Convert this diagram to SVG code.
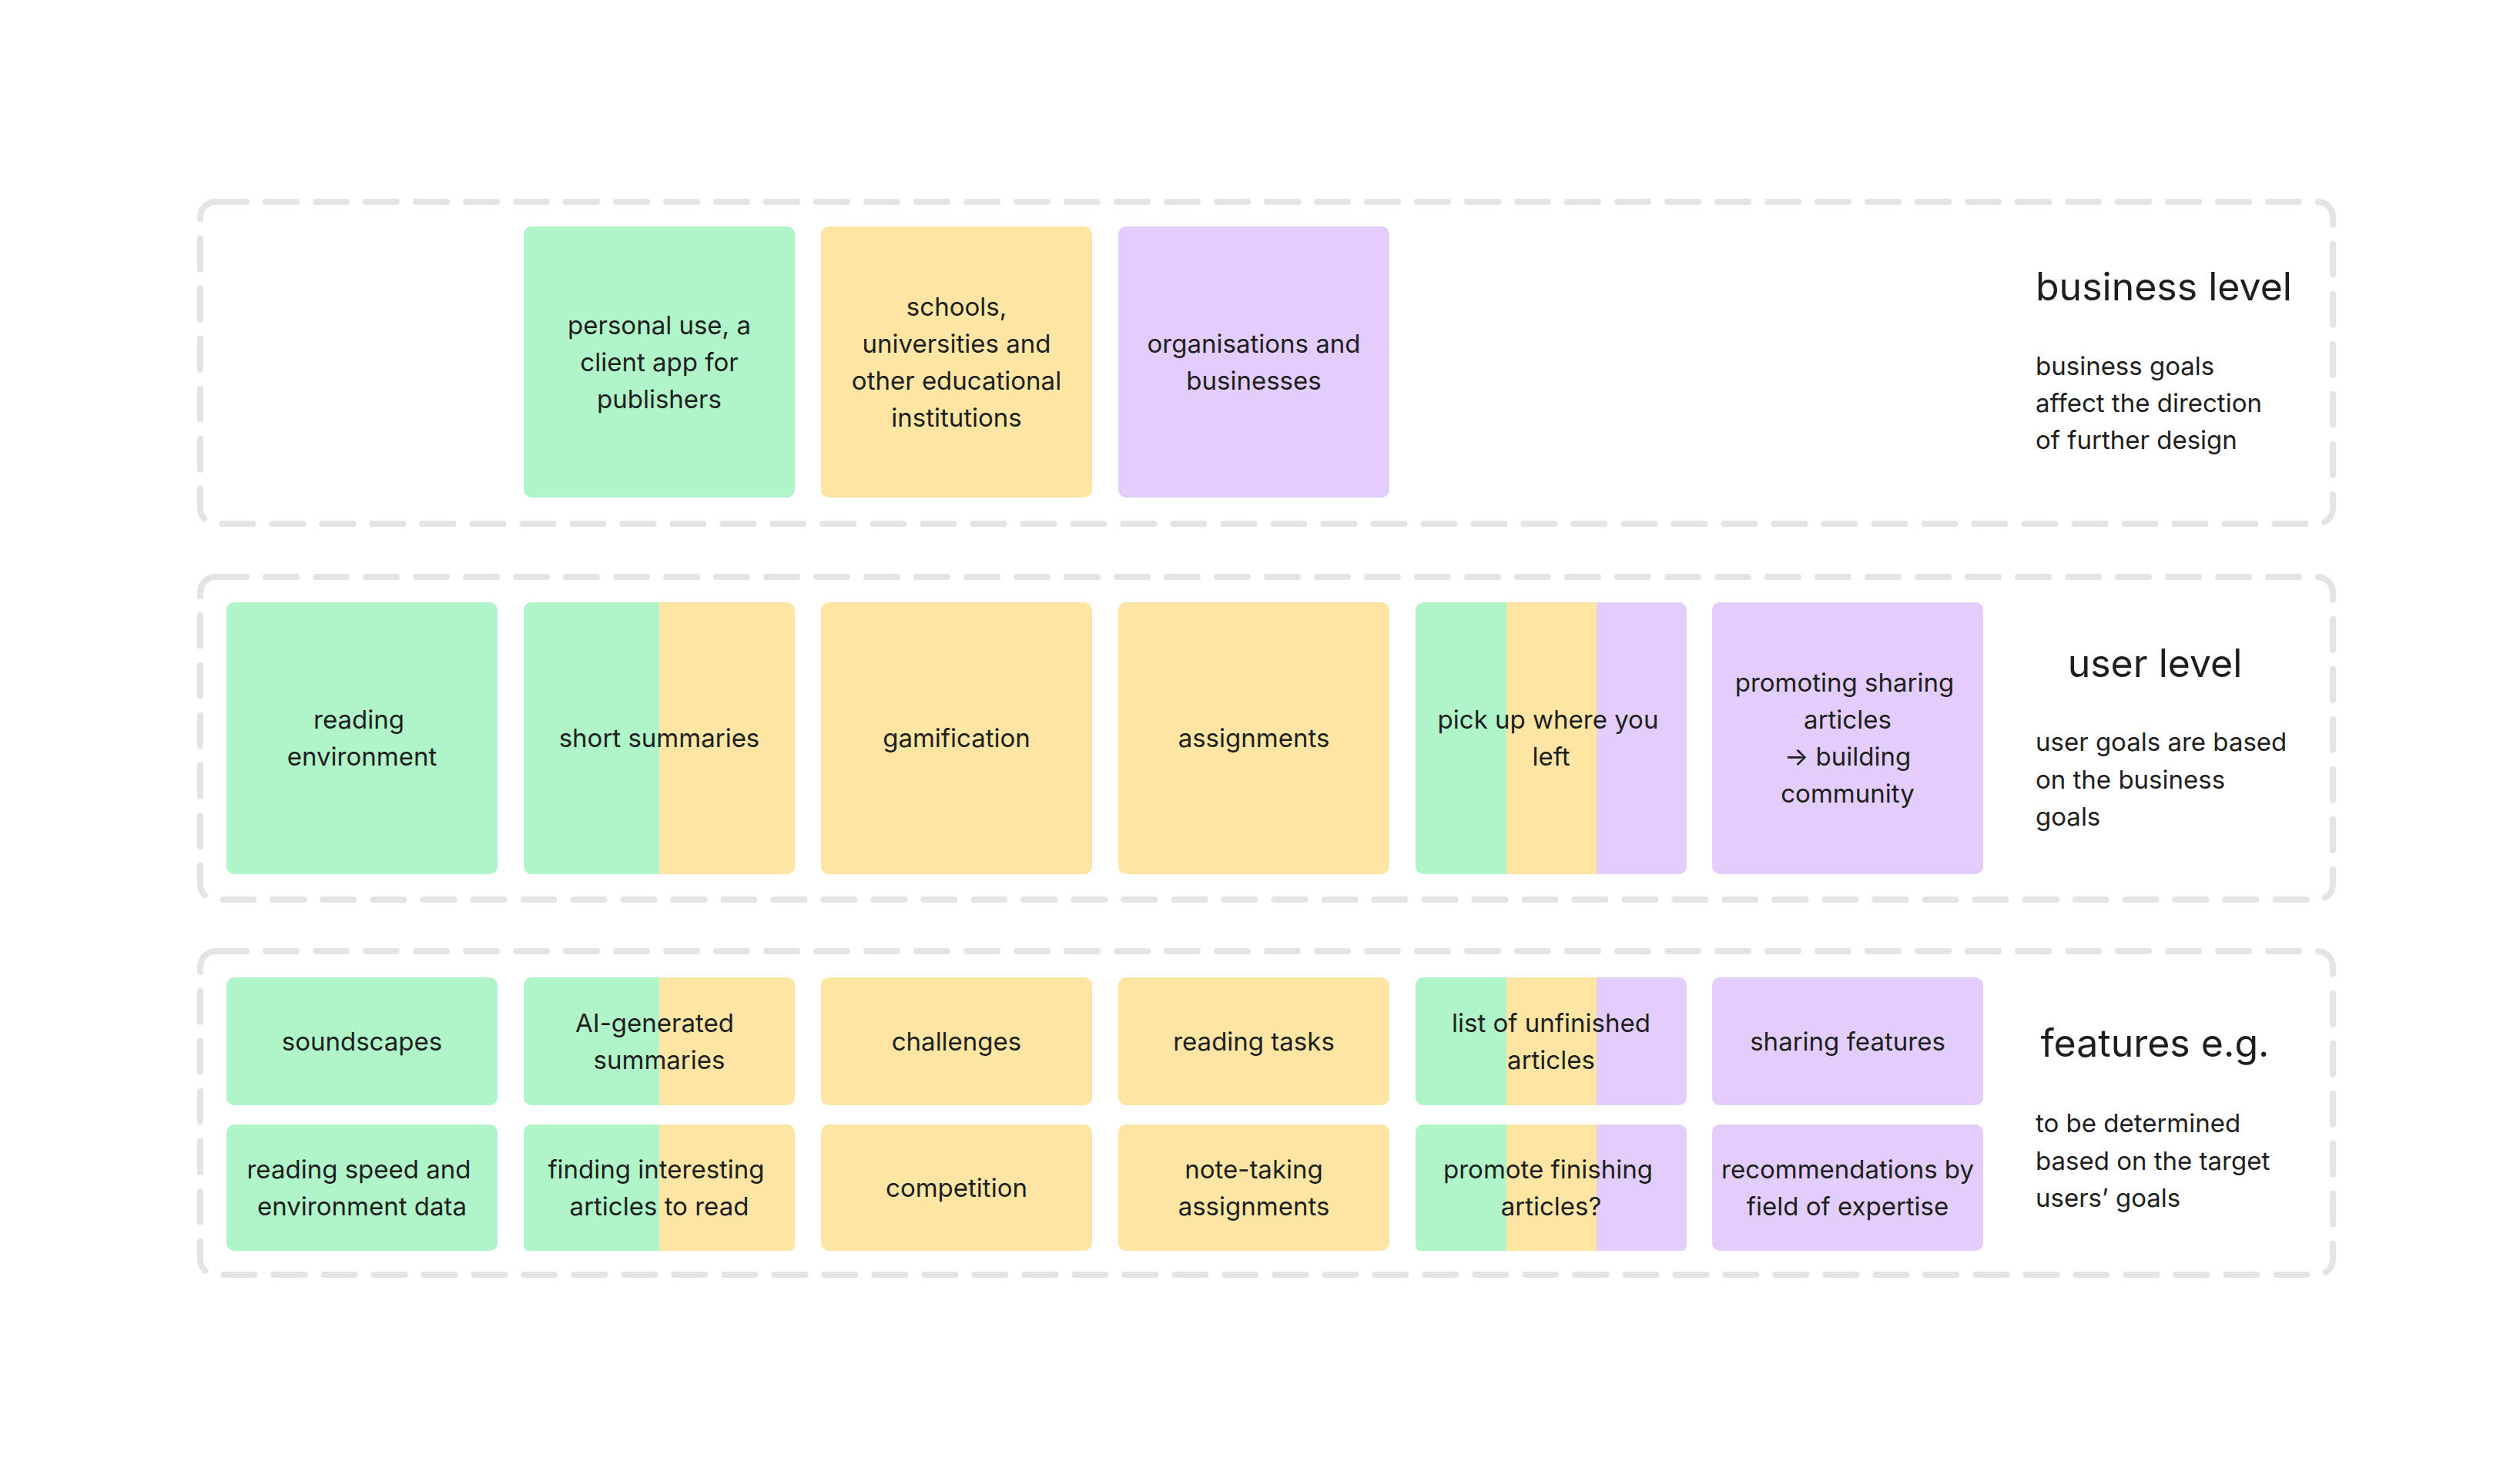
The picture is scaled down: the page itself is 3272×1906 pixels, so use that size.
<svg xmlns="http://www.w3.org/2000/svg" width="3272" height="1906" viewBox="0 0 3272 1906">
<style>
.frame{fill:none;stroke:#e4e4e4;stroke-width:8;stroke-dasharray:40 25;stroke-linecap:round}
.g{fill:#b0f4c9}.y{fill:#fde6a3}.p{fill:#e3cdfc}
text{font-family:Inter,"Noto Sans",sans-serif;fill:#1e1e1e}
.c{font-size:33px;text-anchor:middle}
.h{font-size:50px}
.d{font-size:33px}
</style>
<defs>
<clipPath id="cT"><rect x="0" y="0" width="352" height="352" rx="10"/></clipPath>
<clipPath id="cU"><rect x="0" y="0" width="352" height="353" rx="10"/></clipPath>
<clipPath id="cF"><rect x="0" y="0" width="352" height="166" rx="10"/></clipPath>
</defs>
<rect id="frame-business" class="frame" x="260" y="262" width="2769" height="418" rx="20"/>
<rect id="frame-user" class="frame" x="260" y="749" width="2769" height="419" rx="20"/>
<rect id="frame-features" class="frame" x="260" y="1235" width="2769" height="420" rx="20"/>

<g id="biz-personal"><rect class="g" x="680" y="294" width="352" height="352" rx="10"/>
<text class="c" x="856" y="434">personal use, a</text><text class="c" x="856" y="482">client app for</text><text class="c" x="856" y="530">publishers</text></g>
<g id="biz-schools"><rect class="y" x="1066" y="294" width="352" height="352" rx="10"/>
<text class="c" x="1242" y="410">schools,</text><text class="c" x="1242" y="458">universities and</text><text class="c" x="1242" y="506">other educational</text><text class="c" x="1242" y="554">institutions</text></g>
<g id="biz-orgs"><rect class="p" x="1452" y="294" width="352" height="352" rx="10"/>
<text class="c" x="1628" y="458">organisations and</text><text class="c" x="1628" y="506">businesses</text></g>
<g id="biz-label"><text class="h" x="2643" y="390">business level</text>
<text class="d" x="2643" y="487">business goals</text><text class="d" x="2643" y="535">affect the direction</text><text class="d" x="2643" y="583">of further design</text></g>

<g id="u-reading"><rect class="g" x="294" y="782" width="352" height="353" rx="10"/>
<text class="c" x="466" y="946">reading</text><text class="c" x="470" y="994">environment</text></g>
<g id="u-summaries" transform="translate(680 782)"><g clip-path="url(#cU)"><rect class="g" width="176" height="353"/><rect class="y" x="176" width="176" height="353"/></g>
<text class="c" x="176" y="188">short summaries</text></g>
<g id="u-gamification"><rect class="y" x="1066" y="782" width="352" height="353" rx="10"/><text class="c" x="1242" y="970">gamification</text></g>
<g id="u-assignments"><rect class="y" x="1452" y="782" width="352" height="353" rx="10"/><text class="c" x="1628" y="970">assignments</text></g>
<g id="u-pickup" transform="translate(1838 782)"><g clip-path="url(#cU)"><rect class="g" width="118" height="353"/><rect class="y" x="118" width="117" height="353"/><rect class="p" x="235" width="117" height="353"/></g>
<text class="c" x="172" y="164">pick up where you</text><text class="c" x="176" y="212">left</text></g>
<g id="u-sharing"><rect class="p" x="2223" y="782" width="352" height="353" rx="10"/>
<text class="c" x="2395" y="898">promoting sharing</text><text class="c" x="2399" y="946">articles</text><text class="c" x="2399" y="994">→ building</text><text class="c" x="2399" y="1042">community</text></g>
<g id="u-label"><text class="h" x="2798" y="879" text-anchor="middle">user level</text>
<text class="d" x="2643" y="975">user goals are based</text><text class="d" x="2643" y="1024">on the business</text><text class="d" x="2643" y="1072">goals</text></g>

<g id="f-soundscapes"><rect class="g" x="294" y="1269" width="352" height="166" rx="10"/><text class="c" x="470" y="1364">soundscapes</text></g>
<g id="f-ai" transform="translate(680 1269)"><g clip-path="url(#cF)"><rect class="g" width="176" height="166"/><rect class="y" x="176" width="176" height="166"/></g>
<text class="c" x="170" y="71">AI-generated</text><text class="c" x="176" y="119">summaries</text></g>
<g id="f-challenges"><rect class="y" x="1066" y="1269" width="352" height="166" rx="10"/><text class="c" x="1242" y="1364">challenges</text></g>
<g id="f-tasks"><rect class="y" x="1452" y="1269" width="352" height="166" rx="10"/><text class="c" x="1628" y="1364">reading tasks</text></g>
<g id="f-unfinished" transform="translate(1838 1269)"><g clip-path="url(#cF)"><rect class="g" width="118" height="166"/><rect class="y" x="118" width="117" height="166"/><rect class="p" x="235" width="117" height="166"/></g>
<text class="c" x="176" y="71">list of unfinished</text><text class="c" x="176" y="119">articles</text></g>
<g id="f-sharing"><rect class="p" x="2223" y="1269" width="352" height="166" rx="10"/><text class="c" x="2399" y="1364">sharing features</text></g>

<g id="f-speed"><rect class="g" x="294" y="1460" width="352" height="164" rx="10"/><text class="c" x="466" y="1530">reading speed and</text><text class="c" x="470" y="1578">environment data</text></g>
<g id="f-finding" transform="translate(680 1460)"><g clip-path="url(#cF)"><rect class="g" width="176" height="164"/><rect class="y" x="176" width="176" height="164"/></g>
<text class="c" x="172" y="70">finding interesting</text><text class="c" x="176" y="118">articles to read</text></g>
<g id="f-competition"><rect class="y" x="1066" y="1460" width="352" height="164" rx="10"/><text class="c" x="1242" y="1554">competition</text></g>
<g id="f-notes"><rect class="y" x="1452" y="1460" width="352" height="164" rx="10"/><text class="c" x="1628" y="1530">note-taking</text><text class="c" x="1628" y="1578">assignments</text></g>
<g id="f-promote" transform="translate(1838 1460)"><g clip-path="url(#cF)"><rect class="g" width="118" height="164"/><rect class="y" x="118" width="117" height="164"/><rect class="p" x="235" width="117" height="164"/></g>
<text class="c" x="172" y="70">promote finishing</text><text class="c" x="176" y="118">articles?</text></g>
<g id="f-recs"><rect class="p" x="2223" y="1460" width="352" height="164" rx="10"/><text class="c" x="2399" y="1530">recommendations by</text><text class="c" x="2399" y="1578">field of expertise</text></g>
<g id="f-label"><text class="h" x="2798" y="1372" text-anchor="middle">features e.g.</text>
<text class="d" x="2643" y="1470">to be determined</text><text class="d" x="2643" y="1519">based on the target</text><text class="d" x="2643" y="1567">users’ goals</text></g>
<g id="connectors"/>
</svg>
